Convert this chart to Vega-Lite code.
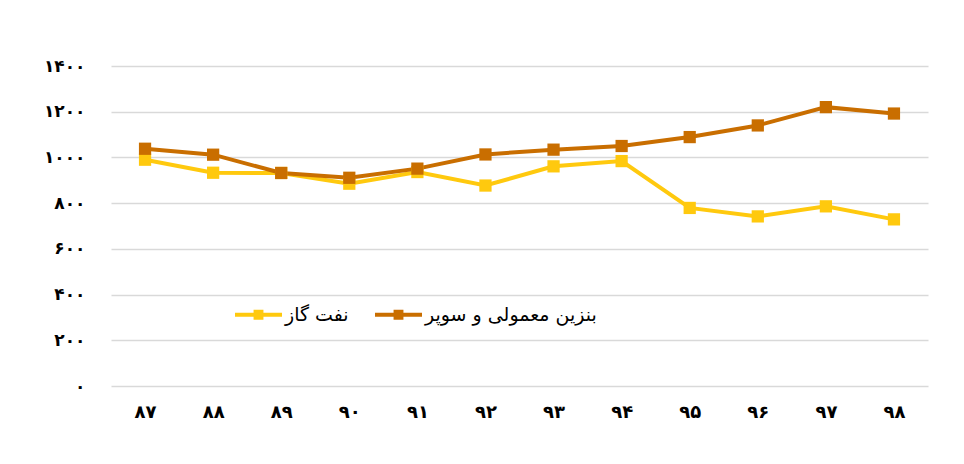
{
  "$schema": "https://vega.github.io/schema/vega-lite/v6.json",
  "width": 817,
  "height": 320,
  "autosize": {"type": "none"},
  "padding": {"left": 111, "top": 66, "right": 36, "bottom": 78},
  "background": "white",
  "config": {
    "view": {"stroke": null},
    "font": "DejaVu Sans"
  },
  "data": {
    "values": [
      {"year": "۸۷", "series": "نفت گاز", "value": 990},
      {"year": "۸۸", "series": "نفت گاز", "value": 933},
      {"year": "۸۹", "series": "نفت گاز", "value": 932},
      {"year": "۹۰", "series": "نفت گاز", "value": 885},
      {"year": "۹۱", "series": "نفت گاز", "value": 936},
      {"year": "۹۲", "series": "نفت گاز", "value": 877},
      {"year": "۹۳", "series": "نفت گاز", "value": 961},
      {"year": "۹۴", "series": "نفت گاز", "value": 984},
      {"year": "۹۵", "series": "نفت گاز", "value": 779},
      {"year": "۹۶", "series": "نفت گاز", "value": 742},
      {"year": "۹۷", "series": "نفت گاز", "value": 786},
      {"year": "۹۸", "series": "نفت گاز", "value": 729},
      {"year": "۸۷", "series": "بنزین معمولی و سوپر", "value": 1038},
      {"year": "۸۸", "series": "بنزین معمولی و سوپر", "value": 1012},
      {"year": "۸۹", "series": "بنزین معمولی و سوپر", "value": 932},
      {"year": "۹۰", "series": "بنزین معمولی و سوپر", "value": 911},
      {"year": "۹۱", "series": "بنزین معمولی و سوپر", "value": 951},
      {"year": "۹۲", "series": "بنزین معمولی و سوپر", "value": 1013},
      {"year": "۹۳", "series": "بنزین معمولی و سوپر", "value": 1034},
      {"year": "۹۴", "series": "بنزین معمولی و سوپر", "value": 1050},
      {"year": "۹۵", "series": "بنزین معمولی و سوپر", "value": 1089},
      {"year": "۹۶", "series": "بنزین معمولی و سوپر", "value": 1140},
      {"year": "۹۷", "series": "بنزین معمولی و سوپر", "value": 1220},
      {"year": "۹۸", "series": "بنزین معمولی و سوپر", "value": 1192}
    ]
  },
  "mark": {
    "type": "line",
    "strokeWidth": 4,
    "point": {"shape": "square", "size": 150, "filled": true, "opacity": 1}
  },
  "encoding": {
    "x": {
      "field": "year",
      "type": "ordinal",
      "sort": null,
      "scale": {"type": "point", "padding": 0.5},
      "axis": {
        "title": null,
        "domain": false,
        "ticks": false,
        "grid": false,
        "labelAngle": 0,
        "labelFontSize": 18,
        "labelFontWeight": "bold",
        "labelColor": "#000000",
        "labelPadding": 17
      }
    },
    "y": {
      "field": "value",
      "type": "quantitative",
      "scale": {"domain": [0, 1400]},
      "axis": {
        "title": null,
        "values": [0, 200, 400, 600, 800, 1000, 1200, 1400],
        "format": "d",
        "labelExpr": "replace(replace(replace(replace(replace(replace(replace(replace(replace(replace(datum.label, regexp('0','g'), '۰'), regexp('1','g'), '۱'), regexp('2','g'), '۲'), regexp('3','g'), '۳'), regexp('4','g'), '۴'), regexp('5','g'), '۵'), regexp('6','g'), '۶'), regexp('7','g'), '۷'), regexp('8','g'), '۸'), regexp('9','g'), '۹')",
        "domain": false,
        "ticks": false,
        "grid": true,
        "gridColor": "#D9D9D9",
        "gridWidth": 1.5,
        "labelFontSize": 17,
        "labelFontWeight": "bold",
        "labelColor": "#000000",
        "labelPadding": 26
      }
    },
    "color": {
      "field": "series",
      "type": "nominal",
      "sort": ["نفت گاز", "بنزین معمولی و سوپر"],
      "scale": {
        "domain": ["نفت گاز", "بنزین معمولی و سوپر"],
        "range": ["#FFC90E", "#C96E00"]
      },
      "legend": {
        "title": null,
        "orient": "none",
        "direction": "horizontal",
        "legendX": 124,
        "legendY": 225,
        "padding": 0,
        "symbolType": "M-1,-0.085H-0.21V-0.21H0.21V-0.085H1V0.085H0.21V0.21H-0.21V0.085H-1Z",
        "symbolSize": 2209,
        "symbolStrokeWidth": 0,
        "labelFontSize": 19,
        "labelLimit": 0,
        "labelColor": "#000000",
        "labelOffset": 3,
        "columnPadding": 26,
        "encode": {
          "symbols": {"update": {"fill": {"scale": "color", "field": "value"}, "fillOpacity": {"value": 1}, "strokeWidth": {"value": 0}}}
        }
      }
    }
  }
}
